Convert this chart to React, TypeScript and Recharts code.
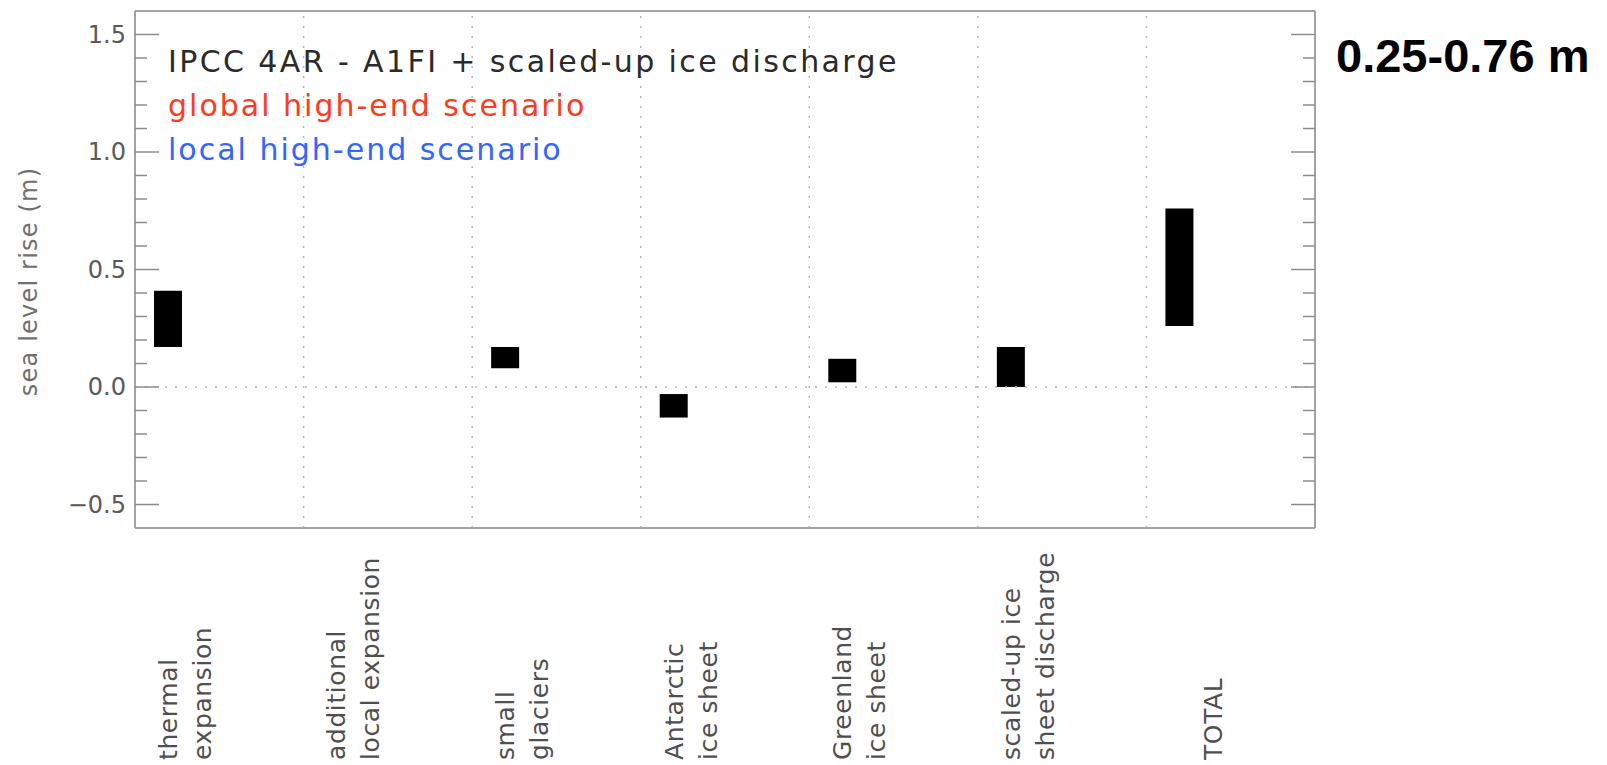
import React from 'react';
import { ComposedChart, Bar, XAxis, YAxis, ReferenceLine, Legend } from 'recharts';

// ---------- data ----------
const categories = [
  'thermal expansion',
  'additional local expansion',
  'small glaciers',
  'Antarctic ice sheet',
  'Greenland ice sheet',
  'scaled-up ice sheet discharge',
  'TOTAL',
];
const categoryLabelLines = [
  ['thermal', 'expansion'],
  ['additional', 'local expansion'],
  ['small', 'glaciers'],
  ['Antarctic', 'ice sheet'],
  ['Greenland', 'ice sheet'],
  ['scaled-up ice', 'sheet discharge'],
  ['', 'TOTAL'],
];
const ipccLow: (number | null)[] = [0.17, null, 0.08, -0.13, 0.02, 0.0, 0.26];
const ipccHigh: (number | null)[] = [0.41, null, 0.17, -0.03, 0.12, 0.17, 0.76];
const globalLow: (number | null)[] = [null, null, null, null, null, null, null];
const globalHigh: (number | null)[] = [null, null, null, null, null, null, null];
const localLow: (number | null)[] = [null, null, null, null, null, null, null];
const localHigh: (number | null)[] = [null, null, null, null, null, null, null];

const seriesNames = [
  'IPCC 4AR - A1FI + scaled-up ice discharge',
  'global high-end scenario',
  'local high-end scenario',
];
const seriesFill = ['#000000', '#ff3b1f', '#3366ff'];
const legendTextColors = ['#2a2a2a', '#ff3b1f', '#3366ff'];

const yDomain = [-0.6, 1.6];
const yTicks = [-0.5, -0.4, -0.3, -0.2, -0.1, 0, 0.1, 0.2, 0.3, 0.4, 0.5, 0.6, 0.7, 0.8, 0.9, 1.0, 1.1, 1.2, 1.3, 1.4, 1.5];
const yMajorTicks = [-0.5, 0, 0.5, 1.0, 1.5];
const yAxisTitle = 'sea level rise (m)';
const titleText = '0.25-0.76 m';

const pair = (a: number | null, b: number | null) => (a == null || b == null ? null : [a, b]);
const data = categories.map((name, i) => ({
  name,
  ipcc: pair(ipccLow[i], ipccHigh[i]),
  global: pair(globalLow[i], globalHigh[i]),
  local: pair(localLow[i], localHigh[i]),
}));

// ---------- styling ----------
const AXIS = '#a3a3a3';
const TICK = '#8c8c8c';
const GRID = '#b5b5b5';
const FONT = '"DejaVu Sans", Verdana, sans-serif';

const isMajor = (v: number) => yMajorTicks.some((m) => Math.abs(m - v) < 1e-6);
const fmt = (v: number) => (v < 0 ? '\u2212' + Math.abs(v).toFixed(1) : v.toFixed(1));

const LeftTick = (props: any) => {
  const { x, y, payload } = props;
  const v = payload.value as number;
  const major = isMajor(v);
  return (
    <g>
      <line x1={x} x2={x + (major ? 24 : 12)} y1={y} y2={y} stroke={TICK} strokeWidth={1.5} />
      {major && (
        <text x={x - 9} y={y} textAnchor="end" dominantBaseline="central" fontFamily={FONT} fontSize={24} fill="#5a5a5a">
          {fmt(v)}
        </text>
      )}
    </g>
  );
};

const RightTick = (props: any) => {
  const { x, y, payload } = props;
  const major = isMajor(payload.value as number);
  return <line x1={x} x2={x - (major ? 24 : 12)} y1={y} y2={y} stroke={TICK} strokeWidth={1.5} />;
};

const XTick = (props: any) => {
  const { x, y, payload, index } = props;
  const i = typeof payload?.index === 'number' ? payload.index : index;
  const lines = categoryLabelLines[i] || [];
  const y0 = y + 232;
  return (
    <g>
      {lines.map((t, k) => {
        if (!t) return null;
        const lx = x - 51 + 34 * k;
        return (
          <text
            key={k}
            x={lx}
            y={y0}
            transform={`rotate(-90, ${lx}, ${y0})`}
            textAnchor="start"
            dominantBaseline="central"
            fontFamily={FONT}
            fontSize={25}
            letterSpacing={0.6}
            fill="#4f4f4f"
          >
            {t}
          </text>
        );
      })}
    </g>
  );
};

const YLabel = (props: any) => {
  const vb = props.viewBox || { x: 0, y: 11, width: 135, height: 517 };
  const cx = vb.x + 29;
  const cy = vb.y + vb.height / 2 + 12;
  return (
    <text
      x={cx}
      y={cy}
      transform={`rotate(-90, ${cx}, ${cy})`}
      textAnchor="middle"
      dominantBaseline="central"
      fontFamily={FONT}
      fontSize={24}
      letterSpacing={1.2}
      fill="#707070"
    >
      {yAxisTitle}
    </text>
  );
};

const LegendContent = (props: any) => {
  const payload = props.payload && props.payload.length ? props.payload : seriesNames.map((n) => ({ value: n }));
  return (
    <svg width={820} height={140} style={{ display: 'block' }}>
      {payload.map((p: any, i: number) => (
        <text
          key={i}
          x={0}
          y={32 + 44 * i}
          fontFamily={FONT}
          fontSize={30}
          letterSpacing={i === 0 ? 2.4 : 2}
          fill={legendTextColors[i]}
        >
          {p.value}
        </text>
      ))}
    </svg>
  );
};

export default function App() {
  return (
    <div style={{ position: 'absolute', left: 0, top: 0, width: 1607, height: 765, background: '#ffffff' }}>
      <ComposedChart
        width={1607}
        height={765}
        data={data}
        margin={{ top: 0, right: 0, bottom: 0, left: 0 }}
        barCategoryGap={19}
        barGap={23}
      >
        <XAxis
          xAxisId="cat"
          dataKey="name"
          type="category"
          orientation="bottom"
          height={237}
          interval={0}
          tickSize={0}
          tickMargin={0}
          tickLine={false}
          axisLine={{ stroke: AXIS, strokeWidth: 2 }}
          tick={<XTick />}
        />
        <XAxis
          xAxisId="top"
          dataKey="name"
          type="category"
          orientation="top"
          height={11}
          tick={false}
          tickLine={false}
          axisLine={{ stroke: AXIS, strokeWidth: 2 }}
        />
        <YAxis
          yAxisId="left"
          orientation="left"
          width={135}
          domain={yDomain}
          allowDataOverflow
          ticks={yTicks}
          interval={0}
          tickSize={0}
          tickMargin={0}
          tickLine={false}
          axisLine={{ stroke: AXIS, strokeWidth: 2 }}
          tick={<LeftTick />}
          label={<YLabel />}
        />
        <YAxis
          yAxisId="right"
          orientation="right"
          width={292}
          domain={yDomain}
          allowDataOverflow
          ticks={yTicks}
          interval={0}
          tickSize={0}
          tickMargin={0}
          tickLine={false}
          axisLine={{ stroke: AXIS, strokeWidth: 2 }}
          tick={<RightTick />}
        />
        {categories.slice(1).map((c) => (
          <ReferenceLine
            key={c}
            x={c}
            position="start"
            xAxisId="cat"
            yAxisId="left"
            stroke={GRID}
            strokeWidth={1.5}
            strokeDasharray="2 8"
          />
        ))}
        <ReferenceLine y={0} xAxisId="cat" yAxisId="left" stroke={GRID} strokeWidth={1.5} strokeDasharray="2 8" />
        <Bar dataKey="ipcc" name={seriesNames[0]} fill={seriesFill[0]} xAxisId="cat" yAxisId="left" isAnimationActive={false} />
        <Bar dataKey="global" name={seriesNames[1]} fill={seriesFill[1]} xAxisId="cat" yAxisId="left" isAnimationActive={false} />
        <Bar dataKey="local" name={seriesNames[2]} fill={seriesFill[2]} xAxisId="cat" yAxisId="left" isAnimationActive={false} />
        <Legend
          layout="horizontal"
          verticalAlign="middle"
          align="center"
          wrapperStyle={{ position: 'absolute', left: 168, top: 40, width: 820, height: 140 }}
          content={<LegendContent />}
        />
      </ComposedChart>
      <svg width={285} height={90} style={{ position: 'absolute', left: 1320, top: 0 }}>
        <text x={16} y={72} fontFamily='"Liberation Sans", Arial, sans-serif' fontWeight="bold" fontSize={47} fill="#000">
          {titleText}
        </text>
      </svg>
    </div>
  );
}
